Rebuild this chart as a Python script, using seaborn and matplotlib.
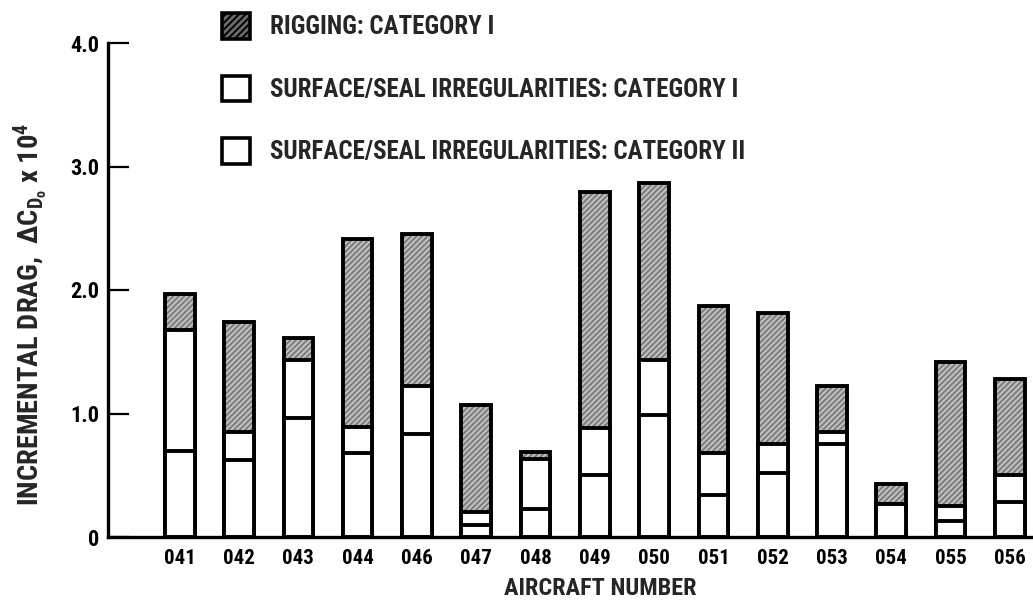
import matplotlib
matplotlib.use("Agg")
import matplotlib.pyplot as plt
import seaborn as sns
import pandas as pd
import numpy as np
from matplotlib.patches import Patch
from matplotlib import font_manager as fm

# ---- data ----
aircraft = ["041", "042", "043", "044", "046", "047", "048", "049",
            "050", "051", "052", "053", "054", "055", "056"]
surface_cat2 = [0.70, 0.62, 0.96, 0.68, 0.83, 0.10, 0.23, 0.50,
                0.99, 0.34, 0.52, 0.75, 0.27, 0.13, 0.28]
surface_cat1 = [0.98, 0.23, 0.47, 0.21, 0.39, 0.10, 0.40, 0.38,
                0.44, 0.34, 0.23, 0.10, 0.00, 0.12, 0.22]
rigging_cat1 = [0.29, 0.89, 0.18, 1.52, 1.23, 0.87, 0.06, 1.91,
                1.44, 1.19, 1.06, 0.37, 0.16, 1.17, 0.78]
legend_labels = ["RIGGING: CATEGORY I",
                 "SURFACE/SEAL IRREGULARITIES: CATEGORY I",
                 "SURFACE/SEAL IRREGULARITIES: CATEGORY II"]
y_ticks = [0, 1.0, 2.0, 3.0, 4.0]
y_ticklabels = ["0", "1.0", "2.0", "3.0", "4.0"]

# ---- fonts ----
sns.set_theme(style="white")
names = {f.name for f in fm.fontManager.ttflist}
fam = next((n for n in ["Liberation Sans Narrow", "Roboto Condensed", "DejaVu Sans"] if n in names), "DejaVu Sans")
plt.rcParams["font.family"] = [fam, "DejaVu Sans"]
plt.rcParams["font.weight"] = "bold"
plt.rcParams["mathtext.fontset"] = "custom"
plt.rcParams["mathtext.rm"] = f"{fam}:bold"
plt.rcParams["mathtext.it"] = f"{fam}:bold"
plt.rcParams["mathtext.bf"] = f"{fam}:bold"
plt.rcParams["hatch.linewidth"] = 1.4

df = pd.DataFrame({
    "aircraft": aircraft,
    "cat2": surface_cat2,
    "cat1": surface_cat1,
    "rig": rigging_cat1,
})
df["mid"] = df["cat2"] + df["cat1"]
df["total"] = df["mid"] + df["rig"]

fig = plt.figure(figsize=(10.33, 6.0), dpi=100)
ax = fig.add_axes([108 / 1033, 63 / 600, 925 / 1033, 494 / 600])

W = 0.5
LW = 2.8
gray = "#7c7c7c"
hatch_col = "#c2c2c2"

common = dict(data=df, x="aircraft", order=aircraft, width=W, errorbar=None,
              saturation=1, ax=ax)
# rigging (hatched gray) = full stack
sns.barplot(y="total", color=gray, edgecolor=hatch_col, hatch="//////",
            linewidth=0, **common)
sns.barplot(y="total", color="black", fill=False, linewidth=LW, **common)
# surface/seal category I (white)
sns.barplot(y="mid", color="white", edgecolor="black", linewidth=LW, **common)
# surface/seal category II (white)
sns.barplot(y="cat2", color="white", edgecolor="black", linewidth=LW, **common)

ax.set_xlim(-1.21, 14.39)
ax.set_ylim(0, 4.0)
ax.set_yticks(y_ticks)
ax.set_yticklabels(y_ticklabels, fontsize=16, fontweight="bold")
ax.tick_params(axis="y", direction="in", length=15, width=1.6, pad=6,
               left=True, colors="black")
ax.tick_params(axis="x", bottom=False, labelsize=15, pad=3, colors="black")
for t in ax.get_xticklabels():
    t.set_fontweight("bold")

for s in ["top", "right"]:
    ax.spines[s].set_visible(False)
for s in ["left", "bottom"]:
    ax.spines[s].set_color("black")
    ax.spines[s].set_linewidth(2.4)

ax.set_xlabel("AIRCRAFT NUMBER", fontsize=17.5, fontweight="bold", labelpad=0)
ax.xaxis.set_label_coords(0.532, -0.080)
ax.set_ylabel(r"INCREMENTAL DRAG,  $\Delta C_{D_o}$ x 10$^4$", fontsize=20.5,
              fontweight="bold")
ax.yaxis.set_label_coords(-0.063, 0.45)

handles = [
    Patch(facecolor="#6a6a6a", edgecolor="black", hatch="/////", linewidth=2.6),
    Patch(facecolor="white", edgecolor="black", linewidth=2.6),
    Patch(facecolor="white", edgecolor="black", linewidth=2.6),
]
leg = fig.legend(handles, legend_labels, loc="upper left",
                 bbox_to_anchor=(222 / 1033, 1 - 13 / 600), frameon=False,
                 prop={"family": [fam, "DejaVu Sans"], "weight": "bold", "size": 18},
                 handlelength=1.1, handleheight=1.2, handletextpad=0.8,
                 labelspacing=1.45, borderpad=0, borderaxespad=0)

fig.savefig("out.png", dpi=100, facecolor="white")
